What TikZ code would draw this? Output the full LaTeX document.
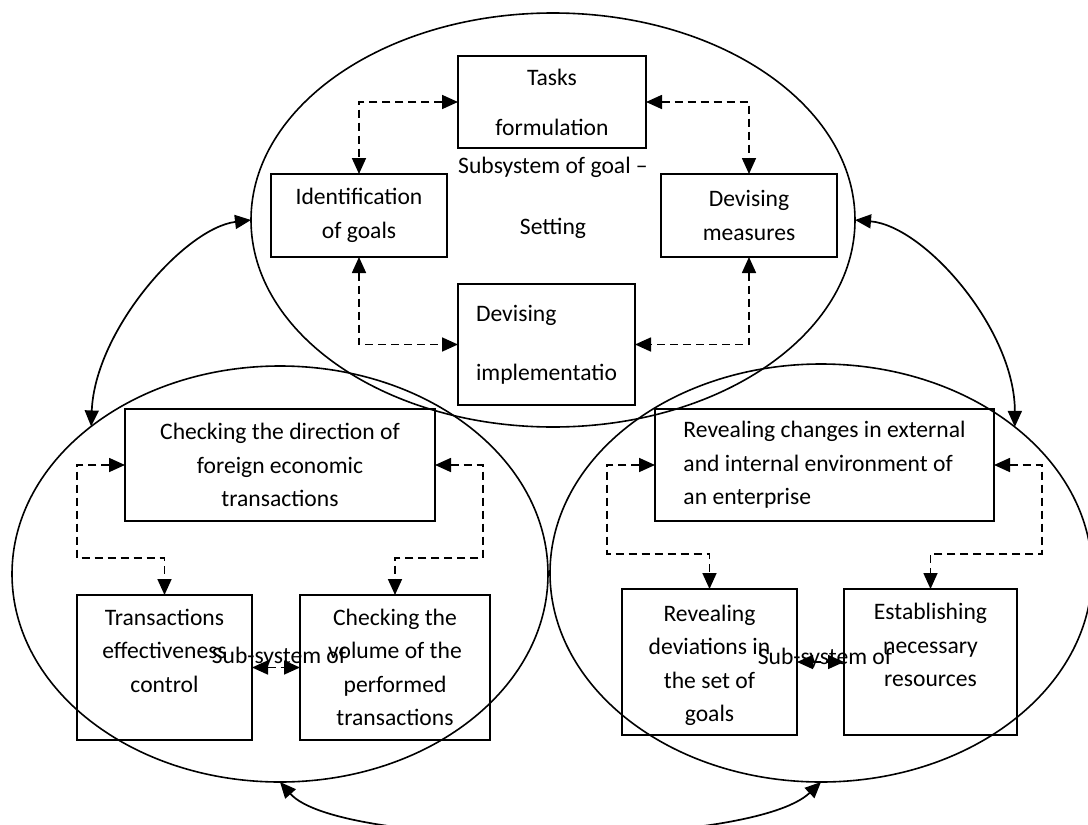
\documentclass[tikz,border=0pt]{standalone}
\usepackage{fontspec}
\setmainfont{Carlito}
\usetikzlibrary{arrows.meta,shapes.geometric}

\tikzset{
  sys/.style={draw, ellipse, line width=0.8pt, inner sep=0pt, outer sep=0pt},
  blk/.style={draw, line width=1pt, inner sep=0pt, outer sep=0pt, align=center},
  dashlink/.style={dash pattern=on 4pt off 2.5pt, line width=0.85pt,
    {Triangle[length=8pt,width=7pt]}-{Triangle[length=8pt,width=7pt]}},
  curvelink/.style={line width=0.85pt,
    {Triangle[length=8pt,width=7pt]}-{Triangle[length=8pt,width=7pt]}},
}

\begin{document}
\begin{tikzpicture}[x=0.5pt, y=-0.5pt, font=\fontsize{11.8}{16.75}\selectfont]
  \useasboundingbox (0,0) rectangle (1088,825);

  \node[sys, minimum width=302pt, minimum height=207pt] (goalsys) at (553,220) {};
  \node[sys, minimum width=268pt, minimum height=208pt] (ctrlsys) at (280,574) {};
  \node[sys, minimum width=271pt, minimum height=209pt] (envsys) at (821,573) {};

  \node[blk, minimum width=94pt, minimum height=46pt] (tasks) at (552,102) {Tasks\\[8.25pt]formulation};
  \node[blk, minimum width=88pt, minimum height=41.5pt] (ident) at (359,215.5) {Identification\\of goals};
  \node[blk, minimum width=88pt, minimum height=41.5pt] (meas) at (749,215.5) {Devising\\measures};
  \node[blk, minimum width=88.5pt, minimum height=60.5pt, align=left] (impl) at (546.5,344.5) {Devising\\[12.75pt]implementatio};
  \node[align=center] (goallbl) at (553,198) {Subsystem of goal --\\[13.75pt]Setting};

  \node[blk, minimum width=155pt, minimum height=56pt] (dir) at (280,465) {Checking the direction of\\foreign economic\\transactions};
  \node[blk, minimum width=87.5pt, minimum height=72.5pt] (eff) at (164.5,667.5) {Transactions\\effectiveness\\control\\\mbox{}};
  \node[blk, minimum width=95pt, minimum height=72.5pt] (vol) at (395,667.5) {Checking the\\volume of the\\performed\\transactions};
  \node (ctrllbl) at (279,657) {Sub-system of};

  \node[blk, minimum width=169.5pt, minimum height=56pt, align=left] (env) at (824.5,465) {Revealing changes in external\\and internal environment of\\an enterprise};
  \node[blk, minimum width=87.5pt, minimum height=73pt] (dev) at (709.5,662) {\strut Revealing\\deviations in\\the set of\\goals};
  \node[blk, minimum width=86.5pt, minimum height=73pt] (res) at (930.5,662) {Establishing\\necessary\\resources\\\mbox{}};
  \node (envlbl) at (825,658) {Sub-system of};

  \coordinate (l1) at (77,558);
  \coordinate (l2) at (483,558);
  \coordinate (r1) at (607,554);
  \coordinate (r2) at (1042,554);

  \draw[dashlink] (tasks.west) -| (ident.north);
  \draw[dashlink] (tasks.east) -| (meas.north);
  \draw[dashlink] (ident.south) |- (impl.west);
  \draw[dashlink] (meas.south) |- (impl.east);

  \draw[dashlink] (dir.west) -| (l1) -| (eff.north);
  \draw[dashlink] (dir.east) -| (l2) -| (vol.north);
  \draw[dashlink] (eff.east) -- (vol.west);

  \draw[dashlink] (env.west) -| (r1) -| (dev.north);
  \draw[dashlink] (env.east) -| (r2) -| (res.north);
  \draw[dashlink] (dev.east) -- (res.west);

  \draw[curvelink] (goalsys.west) .. controls (185,228) and (95,330) .. (ctrlsys.142);
  \draw[curvelink] (goalsys.east) .. controls (925,226) and (1015,330) .. (envsys.37);
  \draw[curvelink] (ctrlsys.south) .. controls (340,850) and (750,850) .. (envsys.south);
\end{tikzpicture}
\end{document}
